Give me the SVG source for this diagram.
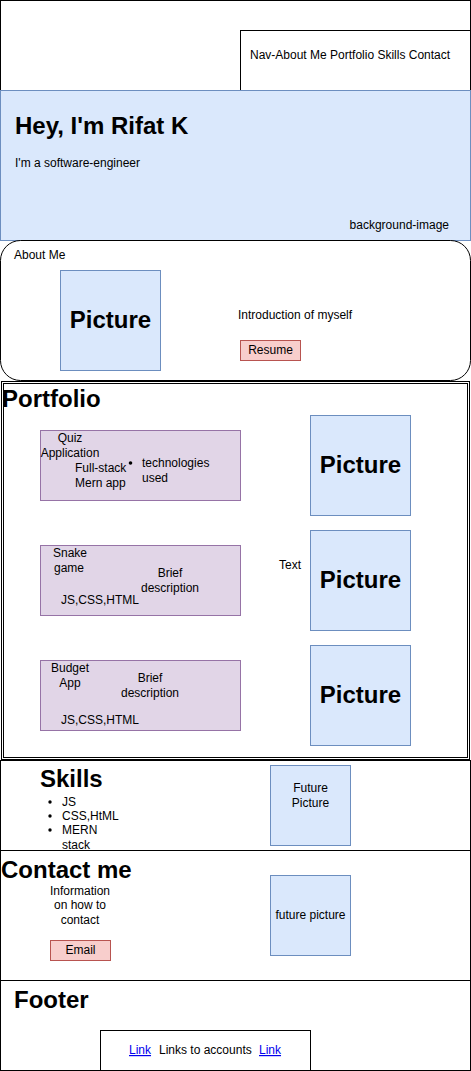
<svg xmlns="http://www.w3.org/2000/svg" width="471" height="1071" viewBox="0 0 471 1071">
<style>
text{font-family:"Liberation Sans",Arial,sans-serif;font-size:12px;fill:#000}
.h{font-weight:bold;font-size:24px}
.c{text-anchor:middle}
.box{fill:#fff;stroke:#000;stroke-width:1}
.blue{fill:#dae8fc;stroke:#6c8ebf;stroke-width:1}
.purple{fill:#e1d5e7;stroke:#9673a6;stroke-width:1}
.red{fill:#f8cecc;stroke:#b85450;stroke-width:1}
.link{fill:#0000ee;text-decoration:underline}
</style>
<rect width="471" height="1071" fill="#fff"/>
<g id="header">
<rect class="box" x="0.5" y="0.5" width="470" height="90"/>
</g>
<g id="nav">
<rect class="box" x="240.5" y="30.5" width="230" height="60"/>
<text x="250" y="59">Nav-About Me Portfolio Skills Contact</text>
</g>
<g id="hero">
<rect class="blue" x="0.5" y="90.5" width="470" height="150"/>
<text class="h" x="15" y="134">Hey, I'm Rifat K</text>
<text x="15" y="167">I'm a software-engineer</text>
<text x="449" y="229" text-anchor="end">background-image</text>
</g>
<g id="about">
<rect class="box" x="0.5" y="240.5" width="470" height="140" rx="20" ry="20"/>
<text x="14" y="259">About Me</text>
</g>
<g id="about-picture">
<rect class="blue" x="60.5" y="270.5" width="100" height="100"/>
<text class="h c" x="110.5" y="328">Picture</text>
</g>
<g id="intro"><text x="238" y="319">Introduction of myself</text></g>
<g id="resume">
<rect class="red" x="240.5" y="340.5" width="60" height="20"/>
<text class="c" x="270.5" y="354">Resume</text>
</g>
<g id="portfolio">
<rect class="box" x="1.5" y="381.5" width="468" height="378"/>
<rect fill="none" stroke="#000" x="3.5" y="383.5" width="464" height="374"/>
<text class="h" x="2" y="407">Portfolio</text>
</g>
<g id="project1">
<rect class="purple" x="40.5" y="430.5" width="200" height="70"/>
<text class="c" x="70" y="442">Quiz</text>
<text class="c" x="70" y="457">Application</text>
<text x="75" y="472">Full-stack</text>
<text x="75" y="487">Mern app</text>
<circle cx="130.5" cy="463" r="1.8" fill="#000"/>
<text x="142" y="467">technologies</text>
<text x="142" y="482">used</text>
</g>
<g id="project2">
<rect class="purple" x="40.5" y="545.5" width="200" height="70"/>
<text class="c" x="70" y="557">Snake</text>
<text class="c" x="69" y="572">game</text>
<text class="c" x="170" y="577">Brief</text>
<text class="c" x="170" y="592">description</text>
<text x="61" y="604">JS,CSS,HTML</text>
</g>
<g id="project3">
<rect class="purple" x="40.5" y="660.5" width="200" height="70"/>
<text class="c" x="70" y="672">Budget</text>
<text class="c" x="70" y="687">App</text>
<text class="c" x="150" y="682">Brief</text>
<text class="c" x="150" y="697">description</text>
<text x="61" y="724">JS,CSS,HTML</text>
</g>
<g id="text-label"><text class="c" x="290" y="569">Text</text></g>
<g id="picture1">
<rect class="blue" x="310.5" y="415.5" width="100" height="100"/>
<text class="h c" x="360.5" y="473">Picture</text>
</g>
<g id="picture2">
<rect class="blue" x="310.5" y="530.5" width="100" height="100"/>
<text class="h c" x="360.5" y="588">Picture</text>
</g>
<g id="picture3">
<rect class="blue" x="310.5" y="645.5" width="100" height="100"/>
<text class="h c" x="360.5" y="703">Picture</text>
</g>
<g id="skills">
<rect class="box" x="0.5" y="760.5" width="470" height="90"/>
<text class="h" x="40" y="787">Skills</text>
<circle cx="50" cy="802" r="1.7" fill="#000"/>
<circle cx="50" cy="816" r="1.7" fill="#000"/>
<circle cx="50" cy="830" r="1.7" fill="#000"/>
<text x="62" y="806">JS</text>
<text x="62" y="820">CSS,HtML</text>
<text x="62" y="834">MERN</text>
<text x="62" y="849">stack</text>
</g>
<g id="future-picture1">
<rect class="blue" x="270.5" y="765.5" width="80" height="80"/>
<text class="c" x="310.5" y="792">Future</text>
<text class="c" x="310.5" y="807">Picture</text>
</g>
<g id="contact">
<rect class="box" x="0.5" y="850.5" width="470" height="130"/>
<text class="h" x="1" y="878">Contact me</text>
<text class="c" x="80" y="895">Information</text>
<text class="c" x="80" y="909">on how to</text>
<text class="c" x="80" y="924">contact</text>
</g>
<g id="email">
<rect class="red" x="50.5" y="940.5" width="60" height="20"/>
<text class="c" x="80.5" y="954">Email</text>
</g>
<g id="future-picture2">
<rect class="blue" x="270.5" y="875.5" width="80" height="80"/>
<text class="c" x="310.5" y="919">future picture</text>
</g>
<g id="footer">
<rect class="box" x="0.5" y="980.5" width="470" height="90"/>
<text class="h" x="14" y="1008">Footer</text>
</g>
<g id="links">
<rect class="box" x="100.5" y="1030.5" width="210" height="40"/>
<text class="link" x="129" y="1054">Link</text>
<text x="159" y="1054">Links to accounts</text>
<text class="link" x="259" y="1054">Link</text>
</g>
<g id="connectors"></g>
</svg>
